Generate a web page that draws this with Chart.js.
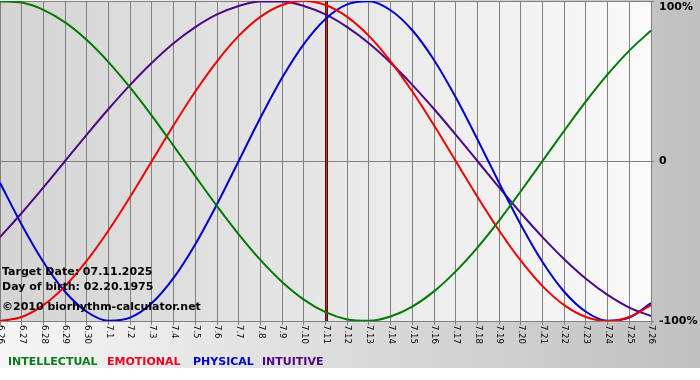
<!DOCTYPE html>
<html><head><meta charset="utf-8">
<script src="https://cdn.jsdelivr.net/npm/chart.js@4.4.1/dist/chart.umd.min.js"></script>
<style>html,body{margin:0;padding:0;background:#fff;}canvas{display:block;}</style>
</head><body>
<canvas id="c" width="700" height="380"></canvas>
<script>
const labels = ['6.26','6.27','6.28','6.29','6.30','7.1','7.2','7.3','7.4','7.5','7.6','7.7','7.8','7.9','7.10','7.11','7.12','7.13','7.14','7.15','7.16','7.17','7.18','7.19','7.20','7.21','7.22','7.23','7.24','7.25','7.26'];
const intellectual = [0.999,0.990,0.945,0.866,0.756,0.618,0.458,0.282,0.095,-0.095,-0.282,-0.458,-0.618,-0.756,-0.866,-0.945,-0.990,-0.999,-0.972,-0.910,-0.815,-0.690,-0.541,-0.372,-0.189,0.000,0.189,0.372,0.541,0.690,0.815];
const emotional = [-1.000,-0.975,-0.901,-0.782,-0.623,-0.434,-0.223,0.000,0.223,0.434,0.623,0.782,0.901,0.975,1.000,0.975,0.901,0.782,0.623,0.434,0.223,0.000,-0.223,-0.434,-0.623,-0.782,-0.901,-0.975,-1.000,-0.975,-0.901];
const physical = [-0.136,-0.398,-0.631,-0.817,-0.942,-0.998,-0.979,-0.888,-0.731,-0.520,-0.270,0.000,0.270,0.520,0.731,0.888,0.979,0.998,0.942,0.817,0.631,0.398,0.136,-0.136,-0.398,-0.631,-0.817,-0.942,-0.998,-0.979,-0.888];
const intuitive = [-0.476,-0.325,-0.165,0.000,0.165,0.325,0.476,0.614,0.736,0.837,0.916,0.969,0.997,0.997,0.969,0.916,0.837,0.736,0.614,0.476,0.325,0.165,0.000,-0.165,-0.325,-0.476,-0.614,-0.736,-0.837,-0.916,-0.969];
const seriesNames = ['INTELLECTUAL','EMOTIONAL','PHYSICAL','INTUITIVE'];
const yTickLabels = {'1':'100%','0':'0','-1':'-100%'};
const targetLabel = '7.11';
const infoLines = ['Target Date: 07.11.2025','Day of birth: 02.20.1975','\u00A92010 biorhythm-calculator.net'];

const lineColors = ['#007a00','#ee0000','#0000cc','#4b0a82'];
const textColors = ['#0a7a1a','#ee0020','#0000cc','#4b0a82'];
const legendX = [8,107,193,262];

const decor = {
  id:'decor',
  beforeDraw(chart){
    const ctx = chart.ctx, W = chart.width, H = chart.height, a = chart.chartArea;
    ctx.save();
    ctx.fillStyle = '#ffffff';
    ctx.fillRect(0,0,W,H);
    let g = ctx.createLinearGradient(0,0,W,0);
    g.addColorStop(0,'#f6f6f6'); g.addColorStop(1,'#c0c0c0');
    ctx.fillStyle = g;
    ctx.fillRect(0,0,W,368);
    let g2 = ctx.createLinearGradient(a.left,0,a.right,0);
    g2.addColorStop(0,'#d4d4d4'); g2.addColorStop(1,'#fafafa');
    ctx.fillStyle = g2;
    ctx.fillRect(a.left,a.top,a.right-a.left,a.bottom-a.top);
    ctx.restore();
  },
  beforeDatasetsDraw(chart){
    const ctx = chart.ctx, a = chart.chartArea, xs = chart.scales.x;
    const x = Math.round(xs.getPixelForValue(labels.indexOf(targetLabel)));
    ctx.save();
    ctx.fillStyle = '#5a0c0c';
    ctx.fillRect(x-1,a.top,3,a.bottom-a.top);
    ctx.fillStyle = '#a83a3a';
    ctx.fillRect(x,a.top,1,a.bottom-a.top);
    ctx.restore();
  },
  afterDraw(chart){
    const ctx = chart.ctx, a = chart.chartArea, xs = chart.scales.x, ys = chart.scales.y;
    ctx.save();
    ctx.fillStyle = '#000';
    ctx.font = '8.5px "DejaVu Sans"';
    ctx.textAlign = 'left'; ctx.textBaseline = 'middle';
    labels.forEach((l,i)=>{
      const x = xs.getPixelForTick(i);
      ctx.save();
      ctx.translate(x+0.5, a.bottom+4);
      ctx.rotate(Math.PI/2);
      ctx.fillText(l,0,0);
      ctx.restore();
    });
    ctx.font = 'bold 11px "DejaVu Sans"';
    ctx.textBaseline = 'middle';
    ys.ticks.forEach(t=>{
      const txt = yTickLabels[String(t.value)];
      if(txt===undefined) return;
      let y = ys.getPixelForValue(t.value);
      if (y < 7) y = 7;
      ctx.fillText(txt, a.right+8, y);
    });
    const infoY = [272,287,307];
    infoLines.forEach((s,i)=>ctx.fillText(s,2,infoY[i]));
    seriesNames.forEach((s,i)=>{ctx.fillStyle = textColors[i]; ctx.fillText(s,legendX[i],362);});
    ctx.restore();
  }
};

const series = [intellectual, emotional, physical, intuitive];
new Chart(document.getElementById('c'), {
  type:'line',
  data:{
    labels: labels,
    datasets: series.map((d,i)=>({label:seriesNames[i], data:d, borderColor:lineColors[i], borderWidth:2, pointRadius:0, cubicInterpolationMode:'monotone', fill:false}))
  },
  options:{
    responsive:false, animation:false, devicePixelRatio:1,
    layout:{padding:{top:1,left:0,right:0,bottom:0}},
    plugins:{legend:{display:false}, tooltip:{enabled:false}},
    events:[],
    scales:{
      x:{type:'category', offset:false,
         grid:{color:'#808080', lineWidth:1, drawTicks:true, tickLength:4, tickColor:'#808080'},
         border:{display:false},
         ticks:{display:false, autoSkip:false},
         afterFit(s){ s.height = 59; }},
      y:{position:'right', min:-1, max:1,
         ticks:{display:false, stepSize:1},
         grid:{color:'#808080', lineWidth:1, tickLength:3, tickColor:'#808080'},
         border:{display:false},
         afterFit(s){ s.width = 49; }}
    }
  },
  plugins:[decor]
});
</script></body></html>
